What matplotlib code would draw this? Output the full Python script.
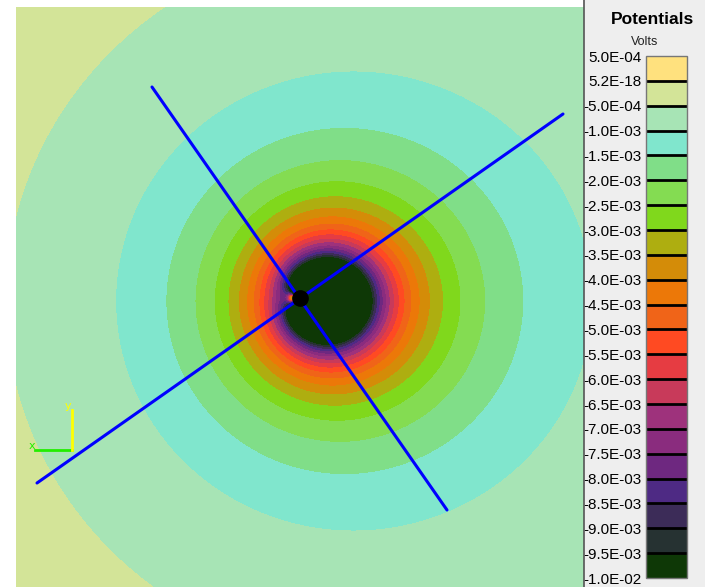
import numpy as np
import matplotlib
matplotlib.use('Agg')
import matplotlib.pyplot as plt
from matplotlib.colors import ListedColormap
from matplotlib.patches import Rectangle

# Potential bands, from lowest to highest (volts)
levels = [-1.0e-2, -9.5e-3, -9.0e-3, -8.5e-3, -8.0e-3, -7.5e-3, -7.0e-3,
          -6.5e-3, -6.0e-3, -5.5e-3, -5.0e-3, -4.5e-3, -4.0e-3, -3.5e-3,
          -3.0e-3, -2.5e-3, -2.0e-3, -1.5e-3, -1.0e-3, -5.0e-4, 5.2e-18, 5.0e-4]
level_labels = ['-1.0E-02', '-9.5E-03', '-9.0E-03', '-8.5E-03', '-8.0E-03',
                '-7.5E-03', '-7.0E-03', '-6.5E-03', '-6.0E-03', '-5.5E-03',
                '-5.0E-03', '-4.5E-03', '-4.0E-03', '-3.5E-03', '-3.0E-03',
                '-2.5E-03', '-2.0E-03', '-1.5E-03', '-1.0E-03', '-5.0E-04',
                '5.2E-18', '5.0E-04']
band_colors = ['#0E3806', '#263232', '#3C2C58', '#4E2A84', '#6E2880',
               '#8A2C7E', '#9E327C', '#C83A5A', '#E63C42', '#FF4A22',
               '#F06418', '#EC7808', '#D48C08', '#AEAE10', '#80D81C',
               '#84DC52', '#80DE88', '#80E6CD', '#A7E4B5', '#D3E498',
               '#FFE17E']

# Survey window (m)
x_range = [-56.8, 56.8]
y_range = [-57.8, 58.2]

# Main current source: position (m), strength, decay exponent, offset (V)
source_xy = [4.4, -0.6]
source_strength = 0.168
decay_exp = 1.3
source_offset = 1.35e-4
# eccentricity of the iso-lines, growing slowly with distance
ecc_base = 0.115
ecc_growth = 1.25e-7
y_stretch = 1.025
# Electrode at the origin with a small local dipole
electrode_xy = [0.0, 0.0]
dipole_xy = [-1.0, 0.0]
dipole_moment = 0.014
dipole_core = 0.5

# Profile lines (m)
profile_a = [[-29.6, 42.2], [29.4, -42.4]]
profile_b = [[-52.6, -37.0], [52.6, 36.8]]

x = np.linspace(x_range[0], x_range[1], 700)
y = np.linspace(y_range[0], y_range[1], 720)
X, Y = np.meshgrid(x, y)

dx = X - source_xy[0]
dy = (Y - source_xy[1]) * y_stretch
r = np.sqrt(dx**2 + dy**2 + 0.25)
ecc = ecc_base + ecc_growth * r**3
r_eff = r - ecc * dx
V = -source_strength / r_eff**decay_exp + source_offset

ddx = X - dipole_xy[0]
ddy = Y - dipole_xy[1]
rd2 = ddx**2 + ddy**2 + dipole_core
V += dipole_moment * (-ddx) / rd2**1.5

V = np.clip(V, levels[0] + 1e-6, levels[-1] - 1e-6)

fig = plt.figure(figsize=(7.05, 5.87), dpi=100)

# grey panel behind the legend
fig.patches.append(Rectangle((583 / 705, 0), 122 / 705, 1, transform=fig.transFigure,
                             facecolor='#EEEEEE', edgecolor='none', zorder=-5))
fig.lines.append(plt.Line2D([584 / 705, 584 / 705], [0, 1], transform=fig.transFigure,
                            color='#555555', linewidth=1.2))

ax = fig.add_axes([16 / 705, 0, 568 / 705, 580 / 587])
cmap = ListedColormap(band_colors)
cf = ax.contourf(X, Y, V, levels=levels, cmap=cmap)

for prof in (profile_a, profile_b):
    px = [p[0] for p in prof]
    py = [p[1] for p in prof]
    ax.plot(px, py, color='#0000FF', linewidth=2.2, solid_capstyle='round')

ax.plot(electrode_xy[0], electrode_xy[1], 'o', color='black', markersize=11)

ax.set_xlim(x_range)
ax.set_ylim(y_range)
ax.set_xticks([])
ax.set_yticks([])
for sp in ax.spines.values():
    sp.set_visible(False)

# axis triad
ax.plot([0.033, 0.0986], [0.236, 0.236], color='#22EE00', linewidth=2,
        transform=ax.transAxes)
ax.plot([0.0986, 0.0986], [0.236, 0.305], color='#FFFF00', linewidth=2,
        transform=ax.transAxes)
ax.text(0.028, 0.243, 'x', color='#22EE00', fontsize=8, ha='center', va='center',
        transform=ax.transAxes)
ax.text(0.092, 0.312, 'y', color='#FFFF00', fontsize=8, ha='center', va='center',
        transform=ax.transAxes)

# legend
cax = fig.add_axes([646 / 705, 9 / 587, 41 / 705, 522 / 587])
cb = fig.colorbar(cf, cax=cax, ticks=levels, drawedges=True)
cb.ax.yaxis.set_ticks_position('left')
cb.ax.set_yticklabels(level_labels, family='Liberation Sans', fontsize=11)
cb.ax.tick_params(length=0, pad=3)
cb.outline.set_edgecolor('#777777')
cb.outline.set_linewidth(1)
cb.dividers.set_color('black')
cb.dividers.set_linewidth(2)

fig.text(652 / 705, 1 - 20 / 587, 'Potentials', family='Liberation Sans',
         fontweight='bold', fontsize=12.5, ha='center', va='center')
fig.text(645 / 705, 1 - 42 / 587, 'Volts', family='Liberation Sans',
         fontsize=9, ha='center', va='center', color='#222222')

fig.savefig('out.png', dpi=100, facecolor='white')
